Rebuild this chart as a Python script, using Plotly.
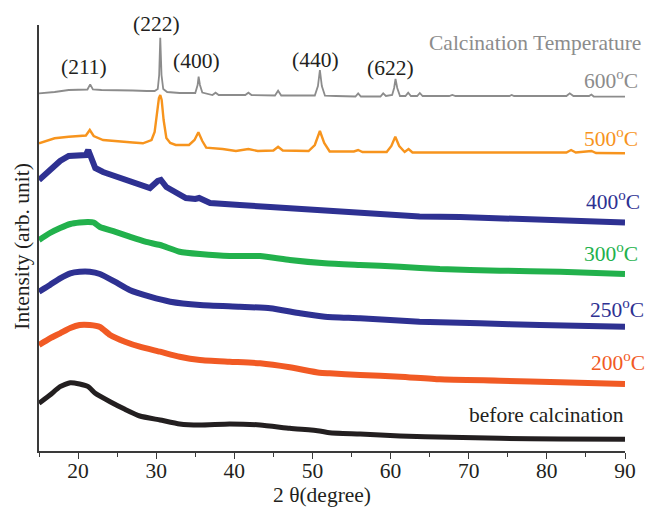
import plotly.graph_objects as go

# ---- data (2θ in degrees, intensity in arbitrary units) ----
tt_600 = [15.0, 17.0, 18.8, 20.5, 21.2, 21.55, 21.9, 23.0, 25.2, 27.0, 28.8, 29.8, 30.2, 30.38, 30.52, 30.68,
          30.9, 31.4, 33.0, 35.0, 35.3, 35.43, 35.6, 35.9, 37.2, 37.6, 38.0, 41.4, 41.8, 42.2, 45.2, 45.6,
          46.0, 50.3, 50.7, 50.95, 51.2, 51.6, 53.0, 55.5, 55.85, 56.2, 58.7, 59.05, 59.4, 60.2, 60.45,
          60.63, 60.85, 61.2, 61.9, 62.25, 62.6, 63.4, 63.74, 64.1, 67.5, 67.9, 68.3, 75.2, 75.5, 75.8,
          82.5, 82.93, 83.4, 85.4, 85.7, 86.0, 90.0]
int_600 = [357.7, 359, 361, 361.5, 361.5, 366.7, 361.5, 361, 361, 360.5, 360, 360, 362, 376, 413.3, 376,
           362, 359, 358, 358, 366, 374.3, 366, 358.5, 356, 358.3, 356, 356, 358.3, 356, 355.5, 360.3,
           355.5, 355.5, 365, 381, 365, 355.3, 355, 354.5, 357.7, 354.5, 354.5, 357.7, 355, 356, 363,
           372, 363, 355, 355, 358.3, 355, 355, 358, 355, 355, 356, 355, 355, 356, 355,
           355, 357.7, 355, 355, 356.5, 354.5, 354.3]

tt_500 = [15.0, 17.0, 18.8, 20.0, 21.0, 21.5, 22.0, 23.2, 25.2, 27.0, 28.3, 29.4, 29.8, 30.1, 30.35, 30.52,
          30.7, 30.95, 31.3, 31.8, 32.5, 34.2, 34.9, 35.4, 35.9, 36.4, 38.5, 40.2, 41.8, 43.0, 45.0, 45.6,
          46.2, 49.5, 50.3, 50.95, 51.5, 52.2, 55.3, 55.85, 56.4, 59.5, 60.1, 60.6, 61.1, 61.8, 62.3,
          62.8, 68.0, 75.0, 82.5, 83.1, 83.7, 85.7, 86.3, 90.0]
int_500 = [307.7, 312.7, 314.3, 315, 315.5, 321, 315, 311, 309.3, 308.5, 307.7, 311, 319, 336, 353, 356,
           351, 331, 313, 308, 306, 306, 311, 318.7, 310, 303.3, 302, 300, 302, 300, 300.5, 304.3,
           300.5, 300, 306, 320, 308, 299.5, 299.5, 301, 299, 299, 305, 314.3, 305, 299, 302,
           298.5, 298.5, 298.5, 298.5, 301, 298.5, 300, 298, 297.7]

tt_400 = [15.0, 16.4, 17.7, 18.8, 20.0, 21.0, 21.3, 21.6, 22.2, 23.2, 25.2, 26.0, 27.9, 29.2, 30.2, 30.6,
          31.3, 32.5, 33.8, 35.0, 35.5, 36.9, 39.4, 40.7, 44.6, 48.4, 51.6, 53.5, 58.6, 63.7, 68.9,
          74.0, 79.1, 84.2, 90.0]
int_400 = [271, 281, 290, 295, 295, 296, 301, 295, 283, 279, 274, 272, 266, 263, 270, 271,
           264, 258, 253, 252, 253, 248, 246, 246, 244, 242, 241, 239.5, 238, 234.5, 234,
           233, 232, 230.5, 228.5]

tt_300 = [15.0, 16.4, 17.7, 19.0, 20.2, 21.3, 22.0, 22.8, 24.7, 26.6, 28.6, 30.5, 33.0, 35.6, 39.4, 43.3,
          47.1, 51.6, 56.1, 61.2, 66.3, 74.0, 81.7, 90.0]
int_300 = [211, 218, 223, 227, 228.5, 229, 228.5, 224, 219.3, 214.3, 209.3, 206, 199.3, 197, 195, 195,
           191, 187.7, 186, 184.3, 182, 180.3, 179.3, 177]

tt_250 = [15.0, 16.4, 17.7, 19.0, 20.2, 21.5, 22.8, 24.7, 26.6, 29.2, 31.8, 35.6, 40.7, 44.6, 48.4, 51.6,
          56.1, 63.7, 71.4, 79.1, 90.0]
int_250 = [159.3, 166, 172.7, 177.7, 179.3, 179.3, 177, 169.3, 161, 154.3, 149.3, 146, 144.3, 142.7, 137.7, 134.3,
           132.7, 129.3, 127.7, 126, 124.3]

tt_200 = [15.0, 16.4, 17.7, 19.0, 20.2, 21.5, 22.8, 24.1, 26.0, 27.9, 30.5, 33.0, 35.6, 39.4, 43.3, 47.1,
          50.9, 52.2, 56.1, 61.2, 66.3, 74.0, 81.7, 90.0]
int_200 = [106, 112.7, 117.7, 123, 126, 126, 124, 116, 109.3, 104.3, 99.3, 94.3, 91, 89.3, 87.7, 83.7,
           78.3, 77.7, 76, 74.3, 71.7, 70.3, 68.7, 67]

tt_before = [15.0, 16.4, 17.7, 19.0, 20.2, 21.3, 22.2, 24.1, 26.0, 27.9, 30.5, 33.0, 35.6, 39.4, 43.3, 47.1,
             50.9, 52.2, 56.1, 61.2, 67.6, 74.0, 81.7, 90.0]
int_before = [47.7, 56, 64.3, 68.3, 67, 64.3, 57.7, 49.3, 41.7, 35, 31, 27, 26, 27, 26, 22.7,
              20, 18.3, 17, 15, 13.7, 12.7, 12, 11.7]

x_tick_vals = [20, 30, 40, 50, 60, 70, 80, 90]
x_tick_text = ["20", "30", "40", "50", "60", "70", "80", "90"]

peak_labels = ["(211)", "(222)", "(400)", "(440)", "(622)"]
peak_label_x = [20.8, 30.06, 35.17, 50.37, 59.94]
peak_label_y = [384.5, 427, 390, 391.3, 383.5]

series_labels = ["600<sup>o</sup>C", "500<sup>o</sup>C", "400<sup>o</sup>C", "300<sup>o</sup>C",
                 "250<sup>o</sup>C", "200<sup>o</sup>C", "before calcination"]

X_RANGE = [15, 90]
Y_RANGE = [0, 426]

# ---- styles ----
FONT = "Liberation Serif, Times New Roman, serif"
FS = 21.5
series = [
    (tt_600, int_600, "#8c8c8c", 1.8, "linear"),
    (tt_500, int_500, "#f7941d", 2.4, "linear"),
    (tt_400, int_400, "#2e3192", 6, "linear"),
    (tt_300, int_300, "#22b14c", 6, "spline"),
    (tt_250, int_250, "#2e3192", 6, "spline"),
    (tt_200, int_200, "#f15a24", 6, "spline"),
    (tt_before, int_before, "#231f20", 5, "spline"),
]

fig = go.Figure()
for xs, ys, col, w, shp in series:
    fig.add_trace(go.Scatter(x=xs, y=ys, mode="lines",
                             line=dict(color=col, width=w, shape=shp, smoothing=0.5 if shp == "spline" else None),
                             showlegend=False, hoverinfo="skip"))

# peak labels (paper coordinates so labels above the plot area still show)
for t, x, y in zip(peak_labels, peak_label_x, peak_label_y):
    fig.add_annotation(x=(x - X_RANGE[0]) / (X_RANGE[1] - X_RANGE[0]),
                       y=(y - Y_RANGE[0]) / (Y_RANGE[1] - Y_RANGE[0]),
                       xref="paper", yref="paper", text=t, showarrow=False,
                       font=dict(family=FONT, size=FS, color="#231f20"),
                       xanchor="center", yanchor="middle")

# right-side labels
label_pos = [  # (paper x of right edge, y value of centre, colour)
    (1.026, 372, "#8c8c8c"),
    (1.026, 314, "#f7941d"),
    (1.029, 251, "#2e3192"),
    (1.026, 199, "#22b14c"),
    (1.036, 143, "#2e3192"),
    (1.038, 90, "#f15a24"),
    (1.002, 36.5, "#231f20"),
]
for t, (px, py, col) in zip(series_labels, label_pos):
    fig.add_annotation(x=px, y=py, xref="paper", yref="y", text=t, showarrow=False,
                       font=dict(family=FONT, size=FS, color=col),
                       xanchor="right", yanchor="middle")

fig.add_annotation(x=1.031, y=408, xref="paper", yref="y", text="Calcination Temperature",
                   showarrow=False, font=dict(family=FONT, size=FS, color="#8c8c8c"),
                   xanchor="right", yanchor="middle")

fig.add_annotation(x=-0.028, y=0.481, xref="paper", yref="paper", text="Intensity (arb. unit)",
                   showarrow=False, textangle=-90, font=dict(family=FONT, size=FS, color="#231f20"),
                   xanchor="center", yanchor="middle")

fig.add_annotation(x=0.483, y=-0.104, xref="paper", yref="paper", text="2 θ(degree)",
                   showarrow=False, font=dict(family=FONT, size=FS, color="#231f20"),
                   xanchor="center", yanchor="middle")

fig.update_layout(
    width=646, height=510,
    margin=dict(l=39, r=21, t=25, b=59, autoexpand=False),
    paper_bgcolor="white", plot_bgcolor="white",
    font=dict(family=FONT, size=FS, color="#231f20"),
    xaxis=dict(range=X_RANGE, showgrid=False, zeroline=False, automargin=False,
               showline=True, linecolor="#3a3a3a", linewidth=1.5,
               tickmode="array", tickvals=x_tick_vals, ticktext=x_tick_text,
               ticks="outside", ticklen=6, tickwidth=1.3, tickcolor="#3a3a3a",
               ticklabelstandoff=-7,
               minor=dict(dtick=5, tick0=0, ticks="outside", ticklen=4, tickwidth=1.2, tickcolor="#3a3a3a"),
               tickfont=dict(family=FONT, size=FS, color="#231f20")),
    yaxis=dict(range=Y_RANGE, showgrid=False, zeroline=False, showticklabels=False, automargin=False,
               showline=True, linecolor="#3a3a3a", linewidth=1.5, ticks=""),
)

fig.write_html("out.html", config={"displayModeBar": False},
               post_script="document.body.style.margin='0';document.body.style.padding='0';"
                           "document.body.style.overflow='hidden';")
